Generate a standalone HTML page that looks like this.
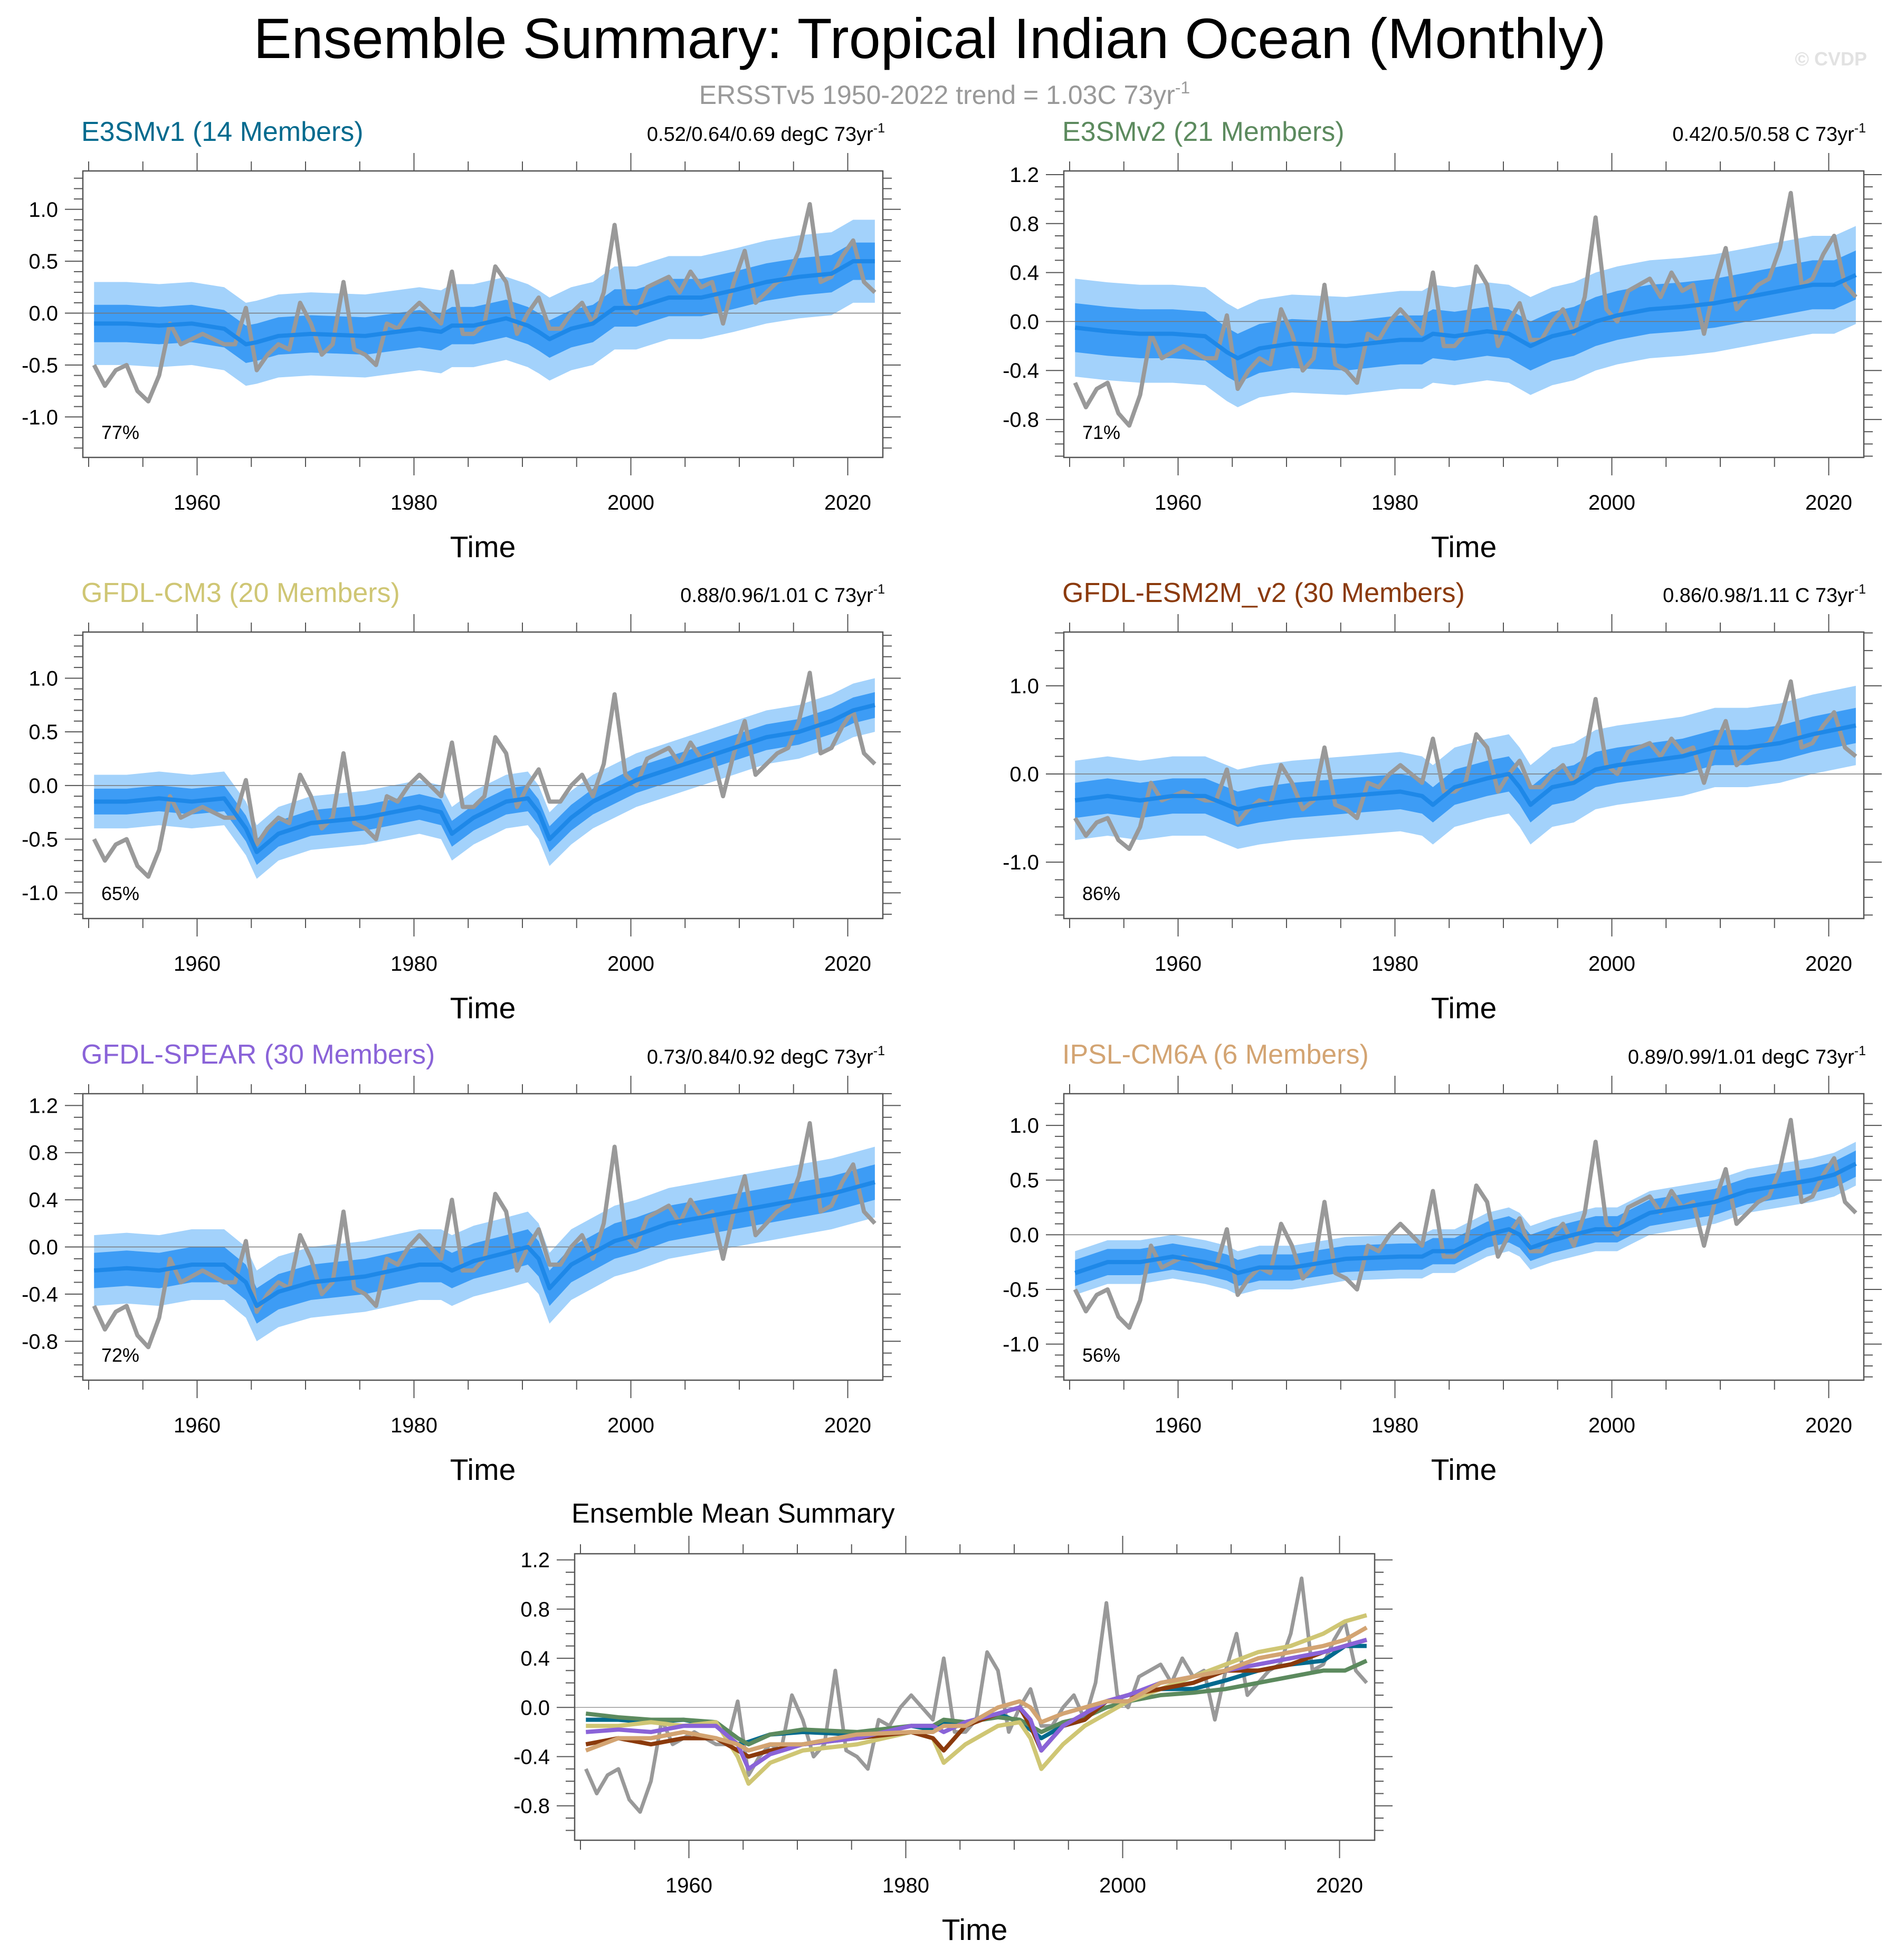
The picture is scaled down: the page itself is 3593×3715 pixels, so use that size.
<!DOCTYPE html>
<html><head><meta charset="utf-8"><style>
html,body{margin:0;padding:0;background:#fff}
svg{display:block;font-family:"Liberation Sans",Arial,sans-serif}
</style></head><body>
<svg id="chart" width="3593" height="3715" viewBox="0 0 3593 3715" xmlns="http://www.w3.org/2000/svg">
<rect width="3593" height="3715" fill="#fff"/>
<text x="1762" y="110" font-size="108" text-anchor="middle" fill="#000">Ensemble Summary: Tropical Indian Ocean (Monthly)</text>
<text x="1790" y="197" font-size="50" text-anchor="middle" fill="#999">ERSSTv5 1950-2022 trend = 1.03C 73yr<tspan dy="-20" font-size="32">-1</tspan></text>
<text x="3538" y="124" font-size="36" text-anchor="end" fill="#e2e2e2" font-weight="bold">© CVDP</text>
<g id="plots"></g>
</svg>
<script>
// ---- data ----
const obsYears = [1950,1951,1952,1953,1954,1955,1956,1957,1958,1959,1960,1961,1962,1963,1964,1965,1966,1967,1968,1969,1970,1971,1972,1973,1974,1975,1976,1977,1978,1979,1980,1981,1982,1983,1984,1985,1986,1987,1988,1989,1990,1991,1992,1993,1994,1995,1996,1997,1998,1999,2000,2001,2002,2003,2004,2005,2006,2007,2008,2009,2010,2011,2012,2013,2014,2015,2016,2017,2018,2019,2020,2021,2022];
const obsValues = [-0.5,-0.7,-0.55,-0.5,-0.75,-0.85,-0.6,-0.1,-0.3,-0.25,-0.2,-0.25,-0.3,-0.3,0.05,-0.55,-0.4,-0.3,-0.35,0.1,-0.1,-0.4,-0.3,0.3,-0.35,-0.4,-0.5,-0.1,-0.15,0.0,0.1,0.0,-0.1,0.4,-0.2,-0.2,-0.1,0.45,0.3,-0.2,0.0,0.15,-0.15,-0.15,0.0,0.1,-0.1,0.2,0.85,0.1,0.0,0.25,0.3,0.35,0.2,0.4,0.25,0.3,-0.1,0.3,0.6,0.1,0.2,0.3,0.35,0.6,1.05,0.3,0.35,0.55,0.7,0.3,0.2];
const knotYears = [1950,1953,1956,1959,1962,1964,1965,1967,1970,1975,1980,1982,1983,1985,1988,1990,1991,1992,1994,1996,1998,2000,2003,2006,2009,2012,2015,2018,2020,2022];
const meanE3SMv1 = [-0.1,-0.1,-0.12,-0.1,-0.15,-0.3,-0.28,-0.22,-0.2,-0.22,-0.15,-0.18,-0.12,-0.12,-0.05,-0.12,-0.18,-0.25,-0.15,-0.1,0.05,0.05,0.15,0.15,0.22,0.3,0.35,0.38,0.5,0.5];
const meanE3SMv2 = [-0.05,-0.08,-0.1,-0.1,-0.12,-0.25,-0.3,-0.22,-0.18,-0.2,-0.15,-0.15,-0.1,-0.12,-0.08,-0.1,-0.15,-0.2,-0.12,-0.08,0.0,0.05,0.1,0.12,0.15,0.2,0.25,0.3,0.3,0.38];
const meanCM3 = [-0.15,-0.15,-0.12,-0.15,-0.12,-0.4,-0.62,-0.45,-0.35,-0.3,-0.2,-0.25,-0.45,-0.3,-0.15,-0.12,-0.25,-0.5,-0.3,-0.15,-0.05,0.05,0.15,0.25,0.35,0.45,0.5,0.6,0.7,0.75];
const meanESM2M = [-0.3,-0.25,-0.3,-0.25,-0.25,-0.35,-0.4,-0.35,-0.3,-0.25,-0.2,-0.25,-0.35,-0.15,-0.05,0.0,-0.15,-0.35,-0.15,-0.1,0.05,0.1,0.15,0.2,0.3,0.3,0.35,0.45,0.5,0.55];
const meanSPEAR = [-0.2,-0.18,-0.2,-0.15,-0.15,-0.3,-0.5,-0.38,-0.3,-0.25,-0.15,-0.15,-0.2,-0.12,-0.05,0.0,-0.1,-0.35,-0.15,-0.05,0.05,0.1,0.2,0.25,0.3,0.35,0.4,0.45,0.5,0.55];
const meanIPSL = [-0.35,-0.25,-0.25,-0.2,-0.25,-0.3,-0.35,-0.3,-0.3,-0.22,-0.2,-0.2,-0.15,-0.15,0.0,0.05,0.0,-0.12,-0.05,0.0,0.05,0.05,0.2,0.25,0.3,0.4,0.45,0.5,0.55,0.65];
const modelNames = ["E3SMv1 (14 Members)","E3SMv2 (21 Members)","GFDL-CM3 (20 Members)","GFDL-ESM2M_v2 (30 Members)","GFDL-SPEAR (30 Members)","IPSL-CM6A (6 Members)"];
const trendLabels = ["0.52/0.64/0.69 degC 73yr","0.42/0.5/0.58 C 73yr","0.88/0.96/1.01 C 73yr","0.86/0.98/1.11 C 73yr","0.73/0.84/0.92 degC 73yr","0.89/0.99/1.01 degC 73yr"];
const pctLabels = ["77%","71%","65%","86%","72%","56%"];
const innerSpread = [0.18,0.2,0.12,0.2,0.15,0.12];
const outerSpread = [0.4,0.4,0.25,0.45,0.3,0.2];
const xTickYears = [1960,1980,2000,2020];
// ---- layout ----
const modelMeans=[meanE3SMv1,meanE3SMv2,meanCM3,meanESM2M,meanSPEAR,meanIPSL];
const modelColors=["#006a8e","#5c8a5e","#cfc674","#8b3a0c","#8a63d8","#d3a472"];
const panels=[
 {x:157,y:324,ymin:-1.39,ymax:1.37,step:0.5,minor:0.1},
 {x:2016,y:324,ymin:-1.11,ymax:1.23,step:0.4,minor:0.1},
 {x:157,y:1198,ymin:-1.24,ymax:1.43,step:0.5,minor:0.1},
 {x:2016,y:1198,ymin:-1.64,ymax:1.61,step:1.0,minor:0.2},
 {x:157,y:2073,ymin:-1.13,ymax:1.30,step:0.4,minor:0.1},
 {x:2016,y:2073,ymin:-1.33,ymax:1.29,step:0.5,minor:0.1},
 {x:1089,y:2945,ymin:-1.08,ymax:1.25,step:0.4,minor:0.1}];
const W=1516,H=543,NS="http://www.w3.org/2000/svg";
const root=document.getElementById('plots');
function mk(tag,attrs,parent){const e=document.createElementNS(NS,tag);for(const k in attrs)e.setAttribute(k,attrs[k]);(parent||root).appendChild(e);return e;}
function poly(xs,ys,fx,fy){return xs.map((v,i)=>fx(v)+','+fy(ys[i])).join(' ');}
panels.forEach((p,pi)=>{
 const g=mk('g',{});
 
 
 const X=yr=>p.x+11+(yr-1950)*20.55;
 const Y=v=>p.y+(p.ymax-v)/(p.ymax-p.ymin)*H;
 for(let yr=1950;yr<=2020;yr+=5){const L=(xTickYears.includes(yr))?34:18;
  mk('line',{x1:X(yr),x2:X(yr),y1:p.y,y2:p.y-L,stroke:'#555','stroke-width':2},g);
  mk('line',{x1:X(yr),x2:X(yr),y1:p.y+H,y2:p.y+H+L,stroke:'#555','stroke-width':2},g);}
 const n0=Math.ceil(p.ymin/p.minor-1e-6),n1=Math.floor(p.ymax/p.minor+1e-6);
 for(let n=n0;n<=n1;n++){const v=n*p.minor;const maj=Math.abs(v/p.step-Math.round(v/p.step))<1e-6;const L=maj?34:17;
  mk('line',{x1:p.x,x2:p.x-L,y1:Y(v),y2:Y(v),stroke:'#555','stroke-width':2},g);
  mk('line',{x1:p.x+W,x2:p.x+W+L,y1:Y(v),y2:Y(v),stroke:'#555','stroke-width':2},g);
  if(maj){const t=mk('text',{x:p.x-47,y:Y(v)+14,'font-size':40,'text-anchor':'end',fill:'#000'},g);t.textContent=v.toFixed(1);
   
   }}
 xTickYears.forEach(yr=>{const t=mk('text',{x:X(yr),y:p.y+H+99,'font-size':40,'text-anchor':'middle',fill:'#000'},g);t.textContent=yr;
  
  });
 const xt=mk('text',{x:p.x+W/2,y:p.y+H+189,'font-size':57,'text-anchor':'middle',fill:'#000'},g);xt.textContent='Time';
 
 
 const clip=mk('clipPath',{id:'c'+pi},g);mk('rect',{x:p.x,y:p.y,width:W,height:H},clip);
 const d=mk('g',{'clip-path':'url(#c'+pi+')'},g);
 const kx=knotYears.map(y=>y+0.5);
 if(pi<6){
  const m=modelMeans[pi];
  [[outerSpread[pi],'#a3d2fb','outer-spread-band'],[innerSpread[pi],'#3d9cf5','inner-spread-band']].forEach(([s,c,nm])=>{
   const pts=kx.map((x,i)=>X(x)+','+Y(m[i]+s)).concat(kx.slice().reverse().map((x,j)=>X(x)+','+Y(m[m.length-1-j]-s)));
   const b=mk('polygon',{points:pts.join(' '),fill:c},d);
   
   });
  mk('line',{x1:p.x,x2:p.x+W,y1:Y(0),y2:Y(0),stroke:'#777','stroke-width':1.5},d);
  const ob=mk('polyline',{points:poly(obsYears.map(y=>y+0.5),obsValues,X,Y),fill:'none',stroke:'#999','stroke-width':8,'stroke-linejoin':'round'},d);
  
  
  const ml=mk('polyline',{points:poly(kx,m,X,Y),fill:'none',stroke:'#1e88e8','stroke-width':8,'stroke-linejoin':'round'},d);
  
  
  const tt=mk('text',{x:p.x-3,y:p.y-57,'font-size':52,fill:modelColors[pi]},g);tt.textContent=modelNames[pi];
  
  
  const tr=mk('text',{x:p.x+W+4,y:p.y-57,'font-size':38,'text-anchor':'end',fill:'#000'},g);tr.textContent=trendLabels[pi];
  const sup=mk('tspan',{dy:-16,'font-size':25},tr);sup.textContent='-1';
  
  
  const pc=mk('text',{x:p.x+35,y:p.y+508,'font-size':36,fill:'#000'},g);pc.textContent=pctLabels[pi];
  
  
 } else {
  mk('line',{x1:p.x,x2:p.x+W,y1:Y(0),y2:Y(0),stroke:'#999','stroke-width':1.5},d);
  const ob=mk('polyline',{points:poly(obsYears.map(y=>y+0.5),obsValues,X,Y),fill:'none',stroke:'#999','stroke-width':7,'stroke-linejoin':'round'},d);
  
  
  modelMeans.forEach((m,i)=>{const l=mk('polyline',{points:poly(kx,m,X,Y),fill:'none',stroke:modelColors[i],'stroke-width':8,'stroke-linejoin':'round'},d);
   
   });
  const tt=mk('text',{x:p.x-6,y:p.y-59,'font-size':52,fill:'#000'},g);tt.textContent='Ensemble Mean Summary';
  
  
 }
 mk('rect',{x:p.x,y:p.y,width:W,height:H,fill:'none',stroke:'#555','stroke-width':2.5},g);
});
</script>
</body></html>
